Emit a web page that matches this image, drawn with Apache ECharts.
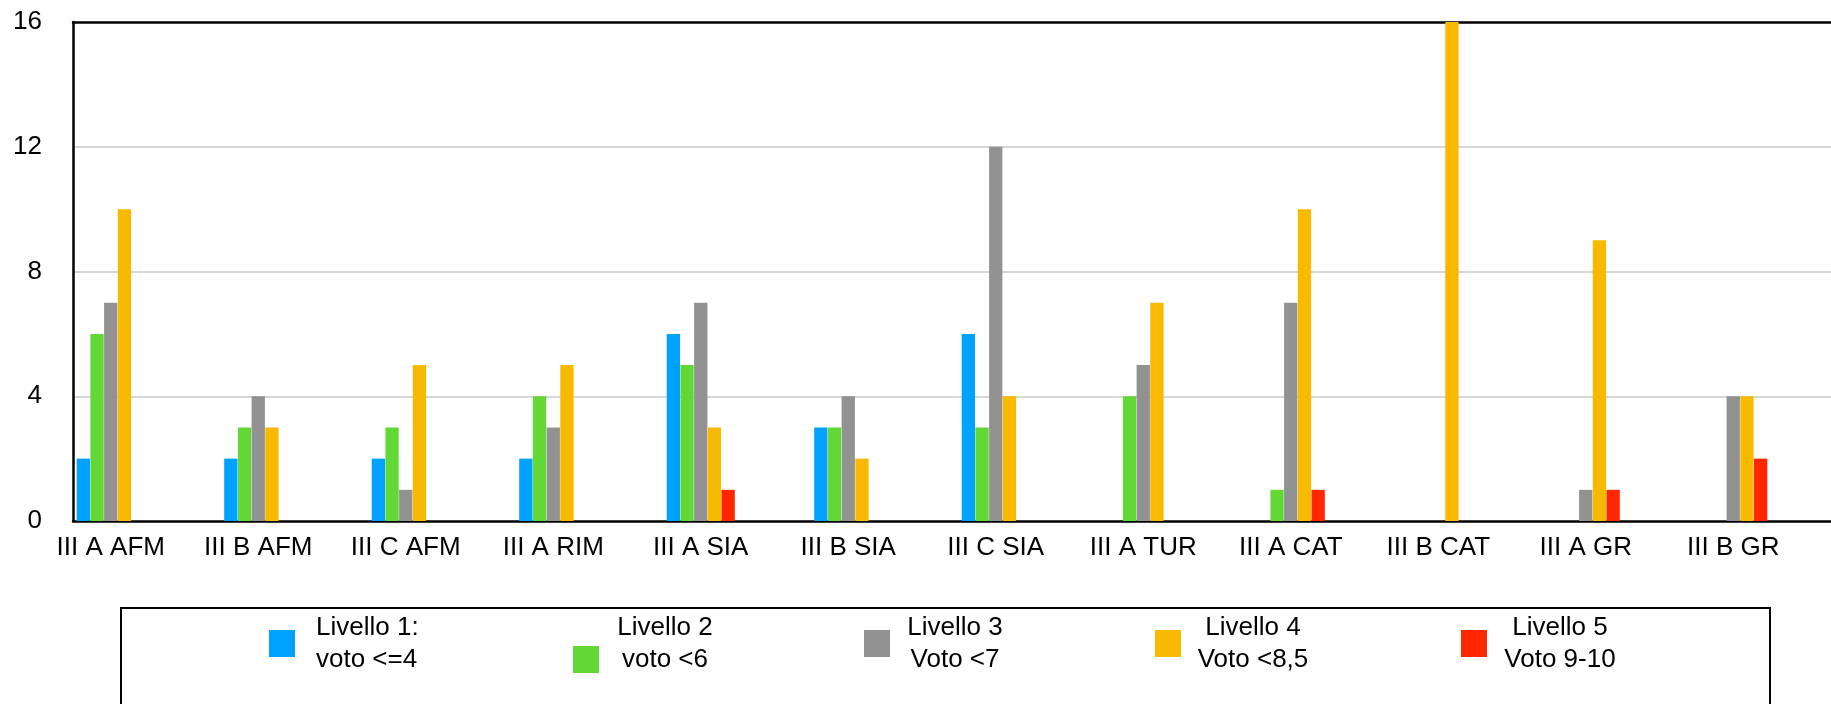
<!DOCTYPE html>
<html>
<head>
<meta charset="utf-8">
<script src="https://cdn.jsdelivr.net/npm/echarts@6/dist/echarts.min.js"></script>
<style>
html,body{margin:0;padding:0;background:#fff;}
#chart{width:1831px;height:704px;}
</style>
</head>
<body>
<div id="chart"></div>
<script>
const categories = ['III A AFM','III B AFM','III C AFM','III A RIM','III A SIA','III B SIA','III C SIA','III A TUR','III A CAT','III B CAT','III A GR','III B GR'];
const livello1 = [2, 2, 2, 2, 6, 3, 6, null, null, null, null, null];
const livello2 = [6, 3, 3, 4, 5, 3, 3, 4, 1, null, null, null];
const livello3 = [7, 4, 1, 3, 7, 4, 12, 5, 7, null, 1, 4];
const livello4 = [10, 3, 5, 5, 3, 2, 4, 7, 10, 16, 9, 4];
const livello5 = [null, null, null, null, 1, null, null, null, 1, null, 1, 2];
const seriesNames = ['Livello 1:\nvoto <=4', 'Livello 2\nvoto <6', 'Livello 3\nVoto <7', 'Livello 4\nVoto <8,5', 'Livello 5\nVoto 9-10'];
const yMin = 0, yMax = 16, yStep = 4;

const colors = ['#00A2FF', '#61D836', '#929292', '#F8BA00', '#FF2600'];
const seriesData = [livello1, livello2, livello3, livello4, livello5];
const FONT = '"Liberation Sans", Arial, Helvetica, sans-serif';

// legend layout (styles only)
const legSqX = [269, 573, 864, 1155, 1461];
const legSqY = [630, 646, 630, 630, 630];
const legTxtX = [316, 665, 955, 1253, 1560];
const legAlign = ['left', 'center', 'center', 'center', 'center'];

const chart = echarts.init(document.getElementById('chart'), null, {renderer: 'canvas'});

const graphics = [{
  type: 'rect',
  shape: {x: 121, y: 608, width: 1649, height: 140},
  style: {fill: 'none', stroke: '#000', lineWidth: 2},
  silent: true
}];
seriesNames.forEach((n, i) => {
  graphics.push({
    type: 'rect',
    shape: {x: legSqX[i], y: legSqY[i], width: 26, height: 27},
    style: {fill: colors[i]},
    silent: true
  });
  graphics.push({
    type: 'text',
    x: legTxtX[i], y: 644,
    style: {text: n, font: '26px ' + FONT, fill: '#000', align: legAlign[i], verticalAlign: 'middle', lineHeight: 32},
    silent: true
  });
});

const option = {
  animation: false,
  backgroundColor: '#fff',
  textStyle: {fontFamily: FONT},
  grid: [
    {left: 73, top: 22, right: 0, bottom: 183},
    {left: 37, top: 22, width: 1770, bottom: 183}
  ],
  xAxis: [
    {type: 'category', gridIndex: 0, data: categories, position: 'bottom',
     axisLine: {show: true, lineStyle: {color: '#000', width: 2.5}},
     axisTick: {show: false}, axisLabel: {show: false}, splitLine: {show: false}},
    {type: 'category', gridIndex: 1, data: categories,
     axisLine: {show: false}, axisTick: {show: false},
     axisLabel: {color: '#000', fontSize: 26, fontFamily: FONT, margin: 14}},
    {type: 'category', gridIndex: 0, data: categories, position: 'top',
     axisLine: {show: true, lineStyle: {color: '#000', width: 2.5}},
     axisTick: {show: false}, axisLabel: {show: false}, splitLine: {show: false}}
  ],
  yAxis: [
    {type: 'value', gridIndex: 0, min: yMin, max: yMax, interval: yStep,
     axisLine: {show: true, lineStyle: {color: '#000', width: 2.5}},
     axisTick: {show: false},
     axisLabel: {color: '#000', fontSize: 26, fontFamily: FONT, margin: 31},
     splitLine: {show: true, showMaxLine: false, showMinLine: false, lineStyle: {color: '#c8c8c8', width: 1.5}}},
    {type: 'value', gridIndex: 1, min: yMin, max: yMax, interval: yStep, show: false,
     splitLine: {show: false}}
  ],
  graphic: graphics,
  series: seriesData.map((d, i) => ({
    name: seriesNames[i],
    type: 'bar',
    xAxisIndex: 1, yAxisIndex: 1,
    data: d,
    barWidth: 13.3,
    barGap: '3%',
    itemStyle: {color: colors[i]}
  }))
};
chart.setOption(option);
</script>
</body>
</html>
